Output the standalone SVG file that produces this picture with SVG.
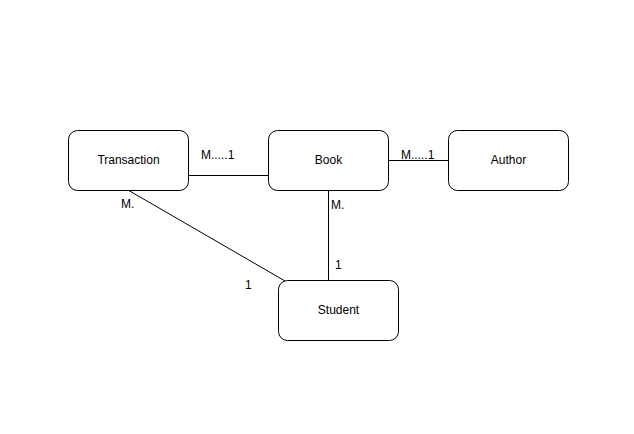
<svg xmlns="http://www.w3.org/2000/svg" width="634" height="434" viewBox="0 0 634 434">
<style>
.box{fill:#fff;stroke:#000;stroke-width:1}
.t{font-family:"Liberation Sans",Arial,sans-serif;font-size:12px;fill:#000;text-anchor:middle;dominant-baseline:central}
.l{font-family:"Liberation Sans",Arial,sans-serif;font-size:12px;fill:#000}
.c{stroke:#000;stroke-width:1;fill:none}
</style>
<rect width="634" height="434" fill="#fff"/>
<g id="connectors">
<line class="c" x1="188" y1="175.5" x2="268" y2="175.5"/>
<line class="c" x1="388" y1="160.5" x2="448" y2="160.5"/>
<line class="c" x1="128" y1="190" x2="285" y2="281"/>
<line class="c" x1="328.5" y1="190" x2="328.5" y2="280"/>
<text class="l" x="201" y="159">M.....1</text>
<text class="l" x="401" y="159">M.....1</text>
<text class="l" x="121" y="208">M.</text>
<text class="l" x="245" y="289">1</text>
<text class="l" x="331" y="209">M.</text>
<text class="l" x="335" y="269">1</text>
</g>
<g id="transaction"><rect class="box" x="68.5" y="130.5" width="120" height="60" rx="9"/><text class="t" x="128.5" y="159.5">Transaction</text></g>
<g id="book"><rect class="box" x="268.5" y="130.5" width="120" height="60" rx="9"/><text class="t" x="328.5" y="159.5">Book</text></g>
<g id="author"><rect class="box" x="448.5" y="130.5" width="120" height="60" rx="9"/><text class="t" x="508.5" y="159.5">Author</text></g>
<g id="student"><rect class="box" x="278.5" y="280.5" width="120" height="60" rx="9"/><text class="t" x="338.5" y="309.5">Student</text></g>
</svg>
